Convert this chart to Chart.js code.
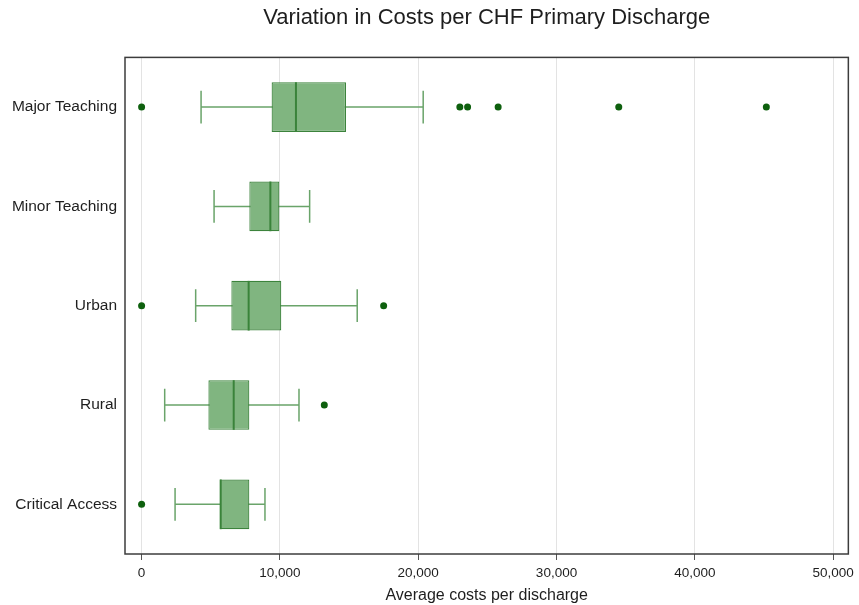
<!DOCTYPE html>
<html>
<head>
<meta charset="utf-8">
<title>Variation in Costs per CHF Primary Discharge</title>
<script src="https://cdn.jsdelivr.net/npm/chart.js@4/dist/chart.umd.min.js"></script>
<style>
  html, body { margin: 0; padding: 0; background: #fff; }
  #wrap { width: 859px; height: 605px; }
</style>
</head>
<body>
<div id="wrap"><canvas id="boxChart" width="859" height="605"></canvas></div>
<script>
'use strict';

// ── Data ────────────────────────────────────────────────────────────────────
const categories   = ['Major Teaching', 'Minor Teaching', 'Urban', 'Rural', 'Critical Access'];
const whiskerLow   = [4300, 5240, 3910, 1670, 2420];
const quartile1    = [9400, 7790, 6490, 4830, 5650];
const medians      = [11160, 9310, 7740, 6660, 5720];
const quartile3    = [14780, 9960, 10100, 7790, 7790];
const whiskerHigh  = [20360, 12150, 15590, 11380, 8920];
const outliers     = [
  [0, 23010, 23570, 25780, 34500, 45170],
  [],
  [0, 17500],
  [13210],
  [0],
];
const xTickValues  = [0, 10000, 20000, 30000, 40000, 50000];

// ── Styling ─────────────────────────────────────────────────────────────────
const FONT        = "'Liberation Sans', Arial, sans-serif";
const TEXT_COLOR  = '#1e1e1e';
const BOX_FILL    = '#80b580';
const BOX_EDGE    = '#3c833c';
const WHISKER     = '#6aa46a';
const MEDIAN      = '#3a833a';
const DOT         = '#0e600e';

// outliers as scatter points on the category axis
const outlierPoints = [];
outliers.forEach((vals, i) => {
  vals.forEach(v => outlierPoints.push({ x: v, y: categories[i] }));
});

// ── Plugins ─────────────────────────────────────────────────────────────────
const boxPlotParts = {
  id: 'boxPlotParts',
  beforeDatasetsDraw(chart) {
    const { ctx } = chart;
    const xs = chart.scales.x;
    const meta = chart.getDatasetMeta(0);
    ctx.save();
    ctx.strokeStyle = WHISKER;
    ctx.lineWidth = 1.5;
    meta.data.forEach((bar, i) => {
      const y = bar.y;
      const cap = bar.height * 0.33;
      const lo = xs.getPixelForValue(whiskerLow[i]);
      const hi = xs.getPixelForValue(whiskerHigh[i]);
      ctx.beginPath();
      ctx.moveTo(lo, y); ctx.lineTo(hi, y);
      ctx.moveTo(lo, y - cap); ctx.lineTo(lo, y + cap);
      ctx.moveTo(hi, y - cap); ctx.lineTo(hi, y + cap);
      ctx.stroke();
    });
    ctx.restore();
  },
  afterDatasetDraw(chart, args) {
    if (args.index !== 0) return;
    const { ctx } = chart;
    const xs = chart.scales.x;
    ctx.save();
    ctx.strokeStyle = MEDIAN;
    ctx.lineWidth = 2;
    args.meta.data.forEach((bar, i) => {
      const mx = xs.getPixelForValue(medians[i]);
      const half = bar.height / 2;
      ctx.beginPath();
      ctx.moveTo(mx, bar.y - half); ctx.lineTo(mx, bar.y + half);
      ctx.stroke();
    });
    ctx.restore();
  },
  afterDraw(chart) {
    // frame round the plot area
    const { ctx, chartArea: a } = chart;
    ctx.save();
    ctx.strokeStyle = '#3c3c3c';
    ctx.lineWidth = 1.5;
    ctx.strokeRect(a.left, a.top, a.right - a.left, a.bottom - a.top);
    ctx.restore();
  },
};

// ── Chart ───────────────────────────────────────────────────────────────────
const ctx = document.getElementById('boxChart').getContext('2d');

new Chart(ctx, {
  type: 'bar',
  data: {
    labels: categories,
    datasets: [
      {
        label: 'IQR',
        data: quartile1.map((q, i) => [q, quartile3[i]]),
        backgroundColor: BOX_FILL,
        borderColor: BOX_EDGE,
        borderWidth: 1.2,
        borderSkipped: false,
        barPercentage: 0.5,
        categoryPercentage: 1,
      },
      {
        type: 'scatter',
        label: 'Outliers',
        data: outlierPoints,
        pointRadius: 3.5,
        pointBackgroundColor: DOT,
        pointBorderColor: DOT,
        pointBorderWidth: 0,
        showLine: false,
      },
    ],
  },
  options: {
    indexAxis: 'y',
    responsive: false,
    animation: false,
    events: [],
    layout: { padding: { left: 0, right: 10, top: 0, bottom: 0 } },
    scales: {
      x: {
        type: 'linear',
        min: -1200,
        max: 51100,
        afterBuildTicks(scale) {
          scale.ticks = xTickValues.map(v => ({ value: v }));
        },
        afterFit(scale) { scale.height = 51; },
        grid: {
          color: '#e3e3e3',
          lineWidth: 1,
          drawTicks: true,
          tickLength: 6,
          tickColor: '#555',
        },
        border: { display: false },
        ticks: {
          color: TEXT_COLOR,
          padding: 5,
          maxRotation: 0,
          font: { family: FONT, size: 13.5 },
          callback: v => Number(v).toLocaleString('en-US'),
        },
        title: {
          display: true,
          text: 'Average costs per discharge',
          color: TEXT_COLOR,
          font: { family: FONT, size: 16 },
          padding: { top: 2, bottom: 0 },
        },
      },
      y: {
        type: 'category',
        afterFit(scale) { scale.width = 125; },
        grid: { display: false, drawTicks: false },
        border: { display: false },
        ticks: {
          color: TEXT_COLOR,
          padding: 8,
          font: { family: FONT, size: 15.5 },
        },
      },
    },
    plugins: {
      legend: { display: false },
      tooltip: { enabled: false },
      title: {
        display: true,
        fullSize: false,
        text: 'Variation in Costs per CHF Primary Discharge',
        color: TEXT_COLOR,
        font: { family: FONT, size: 22, weight: 'normal' },
        padding: { top: 5, bottom: 26 },
      },
    },
  },
  plugins: [boxPlotParts],
});
</script>
</body>
</html>
